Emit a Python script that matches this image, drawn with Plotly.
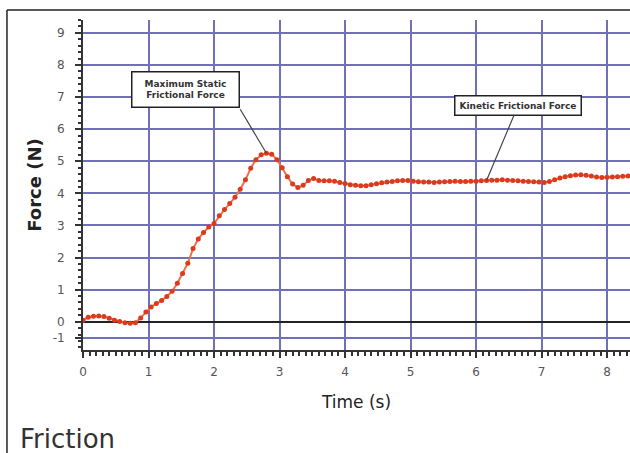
import plotly.graph_objects as go

# ---- data ----
time_s = [0.00, 0.08, 0.16, 0.24, 0.32, 0.40, 0.48, 0.56, 0.64, 0.72,
          0.80, 0.88, 0.96, 1.04, 1.12, 1.20, 1.28, 1.36, 1.44, 1.52,
          1.60, 1.68, 1.76, 1.84, 1.92, 2.00, 2.08, 2.16, 2.24, 2.32,
          2.40, 2.48, 2.56, 2.64, 2.72, 2.80, 2.88, 2.96, 3.04, 3.12,
          3.20, 3.28, 3.36, 3.44, 3.52, 3.60, 3.68, 3.76, 3.84, 3.92,
          4.00, 4.08, 4.16, 4.24, 4.32, 4.40, 4.48, 4.56, 4.64, 4.72,
          4.80, 4.88, 4.96, 5.04, 5.12, 5.20, 5.28, 5.36, 5.44, 5.52,
          5.60, 5.68, 5.76, 5.84, 5.92, 6.00, 6.08, 6.16, 6.24, 6.32,
          6.40, 6.48, 6.56, 6.64, 6.72, 6.80, 6.88, 6.96, 7.04, 7.12,
          7.20, 7.28, 7.36, 7.44, 7.52, 7.60, 7.68, 7.76, 7.84, 7.92,
          8.00, 8.08, 8.16, 8.24, 8.32]
force_n = [0.05, 0.14, 0.17, 0.18, 0.16, 0.11, 0.05, 0.01, -0.03, -0.05,
           -0.03, 0.12, 0.30, 0.46, 0.57, 0.66, 0.79, 0.95, 1.20, 1.50,
           1.82, 2.28, 2.58, 2.78, 2.95, 3.06, 3.30, 3.50, 3.68, 3.88,
           4.13, 4.42, 4.78, 5.05, 5.20, 5.25, 5.22, 5.05, 4.80, 4.52,
           4.29, 4.18, 4.25, 4.40, 4.46, 4.40, 4.39, 4.39, 4.38, 4.34,
           4.31, 4.27, 4.25, 4.24, 4.24, 4.27, 4.30, 4.33, 4.35, 4.37,
           4.39, 4.40, 4.40, 4.38, 4.36, 4.35, 4.35, 4.34, 4.35, 4.36,
           4.37, 4.38, 4.37, 4.37, 4.38, 4.38, 4.39, 4.40, 4.41, 4.41,
           4.42, 4.41, 4.40, 4.39, 4.38, 4.37, 4.36, 4.35, 4.34, 4.37,
           4.42, 4.48, 4.52, 4.55, 4.57, 4.58, 4.56, 4.54, 4.51, 4.49,
           4.50, 4.51, 4.52, 4.53, 4.54]
x_ticks = [0, 1, 2, 3, 4, 5, 6, 7, 8]
y_ticks = [0, 1, 2, 3, 4, 5, 6, 7, 8, 9]

GRID = "#7070ba"
AXIS = "#333333"

fig = go.Figure()
fig.add_trace(go.Scatter(
    x=time_s, y=force_n, mode="lines+markers",
    line=dict(color="#f27048", width=2),
    marker=dict(color="#dc3a1c", size=5),
    showlegend=False, hoverinfo="skip"))

fig.update_layout(
    width=630, height=453,
    margin=dict(l=83, r=0, t=20, b=103),
    paper_bgcolor="white", plot_bgcolor="white",
    font=dict(family="DejaVu Sans", color="#444444"),
)

fig.update_xaxes(
    range=[0, 8.35], tickvals=x_ticks, ticktext=[str(v) for v in x_ticks],
    showgrid=True, gridcolor=GRID, gridwidth=1.5,
    showline=True, linecolor=AXIS, linewidth=2,
    ticks="outside", ticklen=6, tickwidth=1.5, tickcolor=AXIS,
    minor=dict(dtick=0.1, ticks="outside", ticklen=4, tickcolor=AXIS, showgrid=False),
    tickfont=dict(size=12, color="#555555"), ticklabelstandoff=4,
    title=dict(text="Time (s)", font=dict(size=17, color="#222222", family="DejaVu Sans"), standoff=18),
    zeroline=False,
)
fig.update_yaxes(
    range=[-0.88, 9.4],
    tickvals=y_ticks + [-0.5], ticktext=[str(v) for v in y_ticks] + ["-1"],
    showgrid=True, gridcolor=GRID, gridwidth=1.5,
    showline=True, linecolor=AXIS, linewidth=2,
    ticks="outside", ticklen=6, tickwidth=1.5, tickcolor=AXIS,
    minor=dict(dtick=0.2, ticks="outside", ticklen=3, tickcolor=AXIS, showgrid=False),
    tickfont=dict(size=12, color="#555555"), ticklabelstandoff=8,
    title=dict(text="<b>Force (N)</b>", font=dict(size=18, color="#222222", family="DejaVu Sans"), standoff=6),
    zeroline=True, zerolinecolor="#222222", zerolinewidth=2,
)

# peak (max static) and a point on the kinetic plateau
i_peak = max(range(len(force_n)), key=lambda i: force_n[i])
i_kin = time_s.index(6.16)

ann_font = dict(family="DejaVu Sans", size=9, color="#333333")
fig.add_annotation(x=1.57, y=7.23, xref="x", yref="y",
                   text="<b>Maximum Static<br>Frictional Force</b>", showarrow=False,
                   font=ann_font, bgcolor="white", bordercolor="#222222", borderwidth=1.5,
                   borderpad=6, width=94, align="center")
fig.add_shape(type="line", xref="x", yref="y", x0=2.40, y0=6.62,
              x1=time_s[i_peak], y1=force_n[i_peak], line=dict(color="#444444", width=1.2))

fig.add_annotation(x=time_s[i_kin], y=force_n[i_kin], xref="x", yref="y",
                   ax=6.64, ay=6.73, axref="x", ayref="y",
                   text="<b>Kinetic Frictional Force</b>", showarrow=True, arrowhead=0,
                   arrowwidth=1.2, arrowcolor="#444444",
                   font=ann_font, bgcolor="white", bordercolor="#222222", borderwidth=1.5,
                   borderpad=4)

# chart title at the bottom-left
fig.add_annotation(x=-0.119, y=-0.27, xref="paper", yref="paper",
                   text="Friction", showarrow=False, xanchor="left", yanchor="middle",
                   font=dict(family="DejaVu Sans", size=26, color="#333333"))

# outer frame (top and left edges visible)
fig.add_shape(type="line", xref="paper", yref="paper", x0=-0.139, y0=1.0303, x1=1.0, y1=1.0303,
              line=dict(color="#222222", width=1.5))
fig.add_shape(type="line", xref="paper", yref="paper", x0=-0.139, y0=1.0303, x1=-0.139, y1=-0.32,
              line=dict(color="#222222", width=1.5))

fig.write_html("out.html", config={"displayModeBar": False},
               post_script="document.body.style.margin='0';document.body.style.overflow='hidden';")
